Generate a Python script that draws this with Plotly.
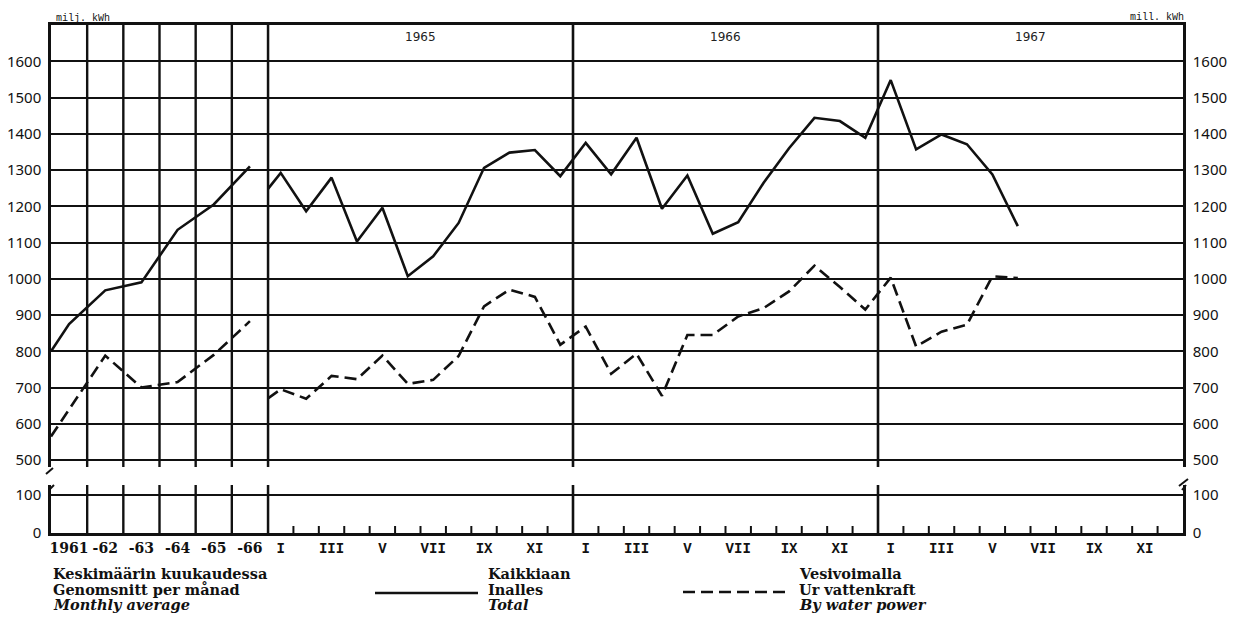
import plotly.graph_objects as go

# ---------------- data ----------------
years = ['1961', '-62', '-63', '-64', '-65', '-66']
total_start = 800          # value where the annual line starts (left edge)
total_annual = [875, 968, 990, 1135, 1205, 1310]
water_start = 565
water_annual = [640, 788, 700, 715, 790, 883]

month_labels = ['I', 'II', 'III', 'IV', 'V', 'VI', 'VII', 'VIII', 'IX', 'X', 'XI', 'XII']
month_years = ['1965', '1966', '1967']

total_monthly_start = 1248
total_monthly = [1292, 1186, 1279, 1103, 1196, 1007, 1062, 1154, 1306, 1348, 1355, 1283,
                 1375, 1288, 1389, 1193, 1285, 1124, 1156, 1265, 1360, 1444, 1435, 1389,
                 1548, 1357, 1398, 1371, 1288, 1145]
water_monthly_start = 670
water_monthly = [695, 669, 732, 723, 788, 710, 721, 787, 924, 970, 950, 818,
                 868, 738, 793, 677, 845, 845, 896, 919, 965, 1036, 977, 915,
                 1003, 813, 854, 873, 1007, 1002]

upper_ticks = [500, 600, 700, 800, 900, 1000, 1100, 1200, 1300, 1400, 1500, 1600]
lower_ticks = [0, 100]

# ---------------- geometry (page pixels; the page body adds an 8px margin) ----------------
OFF = 8
W, H = 1240 - OFF, 618 - OFF
PLOT_L, PLOT_R, PLOT_T, PLOT_B = 51, 1183, 25, 533   # page pixels of the plot frame
L, T = PLOT_L - OFF, PLOT_T - OFF
R, B = W - (PLOT_R - OFF), H - (PLOT_B - OFF)
PW, PH = PLOT_R - PLOT_L, PLOT_B - PLOT_T
ANNUAL_PX = 217


def pxx(p):
    return (p - PLOT_L) / PW


def pyy(p):
    return (PLOT_B - p) / PH


xA_dom = [0, ANNUAL_PX / PW]
xM_dom = [ANNUAL_PX / PW, 1]
up_dom = [pyy(467), 1]
lo_dom = [0, pyy(485)]
up_range = [480.7, 1700]
lo_range = [0, 126.3]
lo_px_per_unit = (533 - 485) / (lo_range[1] - lo_range[0])
n_months = 12 * len(month_years)

INK = '#111111'
LINE_W = 2.6
DASH = '12px,6px'

fig = go.Figure()

ann_x = [0] + [i + 0.5 for i in range(len(years))]
mon_x = [0] + [k + 0.5 for k in range(len(total_monthly))]

fig.add_trace(go.Scatter(x=ann_x, y=[total_start] + total_annual, mode='lines',
                         line=dict(color=INK, width=LINE_W), xaxis='x', yaxis='y',
                         name='Total'))
fig.add_trace(go.Scatter(x=ann_x, y=[water_start] + water_annual, mode='lines',
                         line=dict(color=INK, width=LINE_W, dash=DASH), xaxis='x', yaxis='y',
                         name='By water power'))
fig.add_trace(go.Scatter(x=mon_x, y=[total_monthly_start] + total_monthly, mode='lines',
                         line=dict(color=INK, width=LINE_W), xaxis='x2', yaxis='y2',
                         name='Total'))
fig.add_trace(go.Scatter(x=mon_x[:len(water_monthly) + 1],
                         y=[water_monthly_start] + water_monthly, mode='lines',
                         line=dict(color=INK, width=LINE_W, dash=DASH), xaxis='x2', yaxis='y2',
                         name='By water power'))

ytick_font = dict(family='Noto Sans', size=15, color=INK)
line_kw = dict(showline=True, linecolor=INK, linewidth=2.5, zeroline=False, automargin=False)

roman_vals = [k + 0.5 for k in range(n_months) if k % 2 == 0]
roman_text = [month_labels[k % 12] for k in range(n_months) if k % 2 == 0]

fig.update_layout(
    width=W, height=H,
    margin=dict(l=L, r=R, t=T, b=B, autoexpand=False),
    paper_bgcolor='white', plot_bgcolor='white',
    showlegend=False,
    xaxis=dict(domain=xA_dom, range=[0, 6], anchor='y', side='top', showticklabels=False,
               ticks='', showgrid=False, **line_kw),
    yaxis=dict(domain=up_dom, range=up_range, anchor='x', side='left', tickvals=upper_ticks,
               ticks='', showgrid=True, gridcolor=INK, gridwidth=2, tickfont=ytick_font,
               ticklabelstandoff=4, **line_kw),
    xaxis2=dict(domain=xM_dom, range=[0, n_months], anchor='y2', side='top', showticklabels=False,
                ticks='', showgrid=False, **line_kw),
    yaxis2=dict(domain=up_dom, range=up_range, anchor='x2', side='right', tickvals=upper_ticks,
                ticks='', showgrid=True, gridcolor=INK, gridwidth=2, tickfont=ytick_font,
                ticklabelstandoff=4, **line_kw),
    xaxis3=dict(domain=xA_dom, range=[0, 6], anchor='y3', side='bottom',
                tickvals=[i + 0.5 for i in range(len(years))], ticktext=years, ticks='',
                showgrid=False,
                tickfont=dict(family='DejaVu Serif', size=14, color=INK, weight='bold'),
                **line_kw),
    yaxis3=dict(domain=lo_dom, range=lo_range, anchor='x3', side='left', tickvals=lower_ticks,
                ticks='', showgrid=True, gridcolor=INK, gridwidth=2, tickfont=ytick_font,
                ticklabelstandoff=4, **line_kw),
    xaxis4=dict(domain=xM_dom, range=[0, n_months], anchor='y4', side='bottom',
                tickvals=roman_vals, ticktext=roman_text, ticks='', showgrid=False,
                tickfont=dict(family='Liberation Mono', size=14, color=INK, weight='bold'),
                **line_kw),
    yaxis4=dict(domain=lo_dom, range=lo_range, anchor='x4', side='right', tickvals=lower_ticks,
                ticks='', showgrid=True, gridcolor=INK, gridwidth=2, tickfont=ytick_font,
                ticklabelstandoff=4, **line_kw),
)

shapes = []
# vertical column lines in the annual section
for i in range(1, len(years) + 1):
    for xr, yr in (('x', 'y domain'), ('x3', 'y3 domain')):
        shapes.append(dict(type='line', xref=xr, yref=yr, x0=i, x1=i, y0=0, y1=1,
                           line=dict(color=INK, width=2.4)))
# year boundaries in the monthly section
for yi in range(len(month_years)):
    for xr, yr in (('x2', 'y2 domain'), ('x4', 'y4 domain')):
        shapes.append(dict(type='line', xref=xr, yref=yr, x0=12 * yi, x1=12 * yi, y0=0, y1=1,
                           line=dict(color=INK, width=2.6)))
# month tick marks on the zero line
tick_h = 7 / lo_px_per_unit
for k in range(1, n_months):
    if k % 12:
        shapes.append(dict(type='line', xref='x4', yref='y4', x0=k, x1=k, y0=0, y1=tick_h,
                           line=dict(color=INK, width=2)))
# axis-break marks
for (xa, ya, xb, yb) in ((46, 474, 53, 468), (49, 490, 54, 485),
                         (1179, 486, 1188, 479), (1182, 490, 1186, 485)):
    shapes.append(dict(type='line', xref='paper', yref='paper', x0=pxx(xa), y0=pyy(ya),
                       x1=pxx(xb), y1=pyy(yb), line=dict(color=INK, width=2)))
# legend line samples
shapes.append(dict(type='line', xref='paper', yref='paper', x0=pxx(375), x1=pxx(478),
                   y0=pyy(593), y1=pyy(593), line=dict(color=INK, width=2.6)))
shapes.append(dict(type='line', xref='paper', yref='paper', x0=pxx(683), x1=pxx(790),
                   y0=pyy(592), y1=pyy(592), line=dict(color=INK, width=2.6, dash=DASH)))
fig.update_layout(shapes=shapes)

ann = []
mono = dict(family='Liberation Mono', size=10, color=INK)
ann.append(dict(text='milj. kWh', x=pxx(54), y=pyy(18), xref='paper', yref='paper',
                xanchor='left', yanchor='middle', showarrow=False, font=mono))
ann.append(dict(text='mill. kWh', x=pxx(1186), y=pyy(17), xref='paper', yref='paper',
                xanchor='right', yanchor='middle', showarrow=False, font=mono))
for yi, yl in enumerate(month_years):
    ann.append(dict(text=yl, x=12 * yi + 6, y=pyy(37), xref='x2', yref='paper',
                    xanchor='center', yanchor='middle', showarrow=False,
                    font=dict(family='DejaVu Sans', size=12, color='#222222')))

serif_b = dict(family='DejaVu Serif', size=14.5, color=INK, weight='bold')
serif_bi = dict(family='DejaVu Serif', size=14.5, color=INK, weight='bold', style='italic')
legend_blocks = [
    (51, ['Keskimäärin kuukaudessa', 'Genomsnitt per månad', 'Monthly average']),
    (486, ['Kaikkiaan', 'Inalles', 'Total']),
    (797, ['Vesivoimalla', 'Ur vattenkraft', 'By water power']),
]
row_y = [573, 589, 604]
for x0, lines in legend_blocks:
    for j, txt in enumerate(lines):
        ann.append(dict(text=txt, x=pxx(x0), y=pyy(row_y[j]), xref='paper', yref='paper',
                        xanchor='left', yanchor='middle', showarrow=False,
                        font=serif_bi if j == 2 else serif_b))
fig.update_layout(annotations=ann)

fig.write_html('out.html')
